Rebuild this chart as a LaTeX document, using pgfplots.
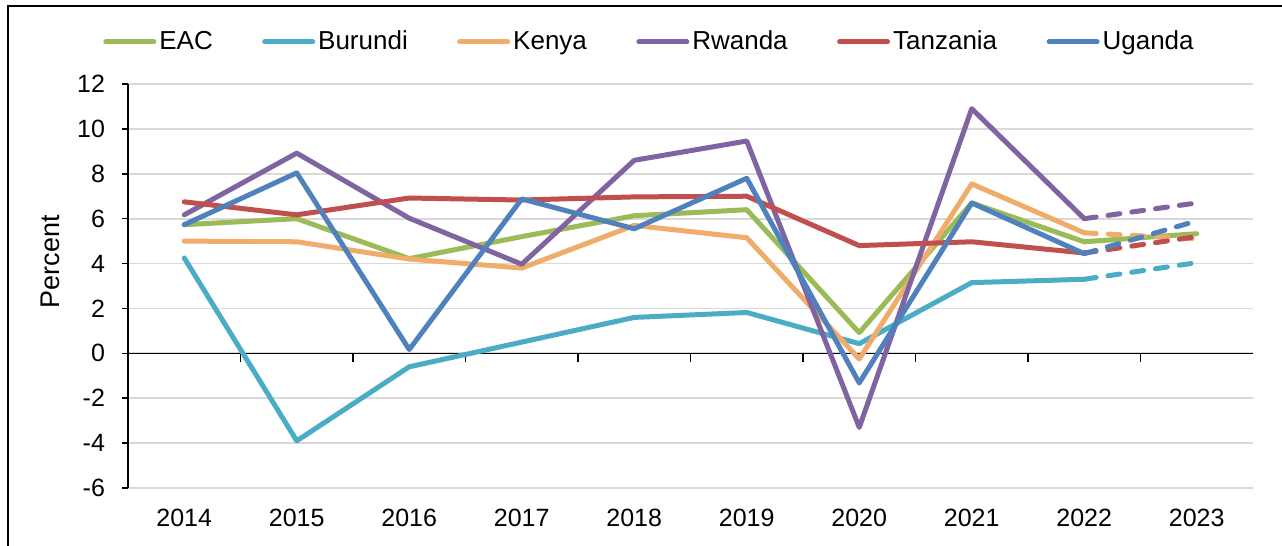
\documentclass[border=0pt]{standalone}
\usepackage{fontspec}
\setmainfont{Liberation Sans}
\usepackage{pgfplots}
\pgfplotsset{compat=1.18}

\definecolor{cEAC}{HTML}{9BBB59}
\definecolor{cBdi}{HTML}{4BACC6}
\definecolor{cKen}{HTML}{F0AC6A}
\definecolor{cRwa}{HTML}{8064A2}
\definecolor{cTza}{HTML}{C0504D}
\definecolor{cUga}{HTML}{4F81BD}

\begin{document}
\begin{tikzpicture}
\useasboundingbox (0,0) rectangle (641pt,273pt);
\draw[line width=0.9pt] (4pt,0) -- (4pt,270pt) -- (641pt,270pt);
\begin{axis}[
  at={(64pt,29pt)}, anchor=south west, scale only axis,
  width=562.5pt, height=202pt,
  xmin=-0.5, xmax=9.5, ymin=-6, ymax=12,
  ytick={-6,-4,...,12},
  xtick={0,...,9},
  xticklabels={2014,2015,2016,2017,2018,2019,2020,2021,2022,2023},
  axis line style={draw=none},
  xtick style={draw=none},
  ytick pos=left, tick align=outside, major tick length=3pt,
  ytick style={black, line width=0.8pt},
  ymajorgrids, grid style={black!15, line width=0.9pt},
  font=\fontsize{12.5}{15}\selectfont,
  /pgf/number format/assume math mode=true,
  yticklabel style={xshift=-5pt},
  xticklabel style={yshift=-4pt},
  ylabel={Percent},
  ylabel style={font=\fontsize{13.5}{16}\selectfont, at={(axis description cs:-0.069,0.56)}, anchor=center},
  clip=false,
  legend columns=6,
  legend style={draw=none, fill=none, at={(0.464,1.104)}, anchor=center,
    font=\fontsize{13}{15}\selectfont,
    /tikz/every even column/.append style={column sep=23.2pt},
    nodes={inner xsep=1.5pt}},
  legend image code/.code={\draw[#1, solid, line cap=round] (0pt,0pt) -- (24pt,0pt);},
  every axis plot/.append style={line width=2.5pt, line cap=round, line join=round, mark=none},
]
\draw[line width=0.8pt] (rel axis cs:0,0) -- (rel axis cs:0,1);
\draw[line width=0.8pt] (axis cs:-0.5,0) -- (axis cs:9.5,0);
\pgfplotsinvokeforeach{0.5,1.5,...,8.5}{\draw[line width=0.8pt] (axis cs:#1,0) -- ([yshift=-4.5pt]axis cs:#1,0);}

\addplot[cEAC] coordinates {(0,5.73) (1,6.0) (2,4.22) (3,5.2) (4,6.13) (5,6.4) (6,0.92) (7,6.7) (8,4.97) (9,5.33)};
\addlegendentry{EAC}
\addplot[cBdi] coordinates {(0,4.25) (1,-3.9) (2,-0.6) (3,0.5) (4,1.6) (5,1.82) (6,0.43) (7,3.15) (8,3.3)};
\addlegendentry{Burundi}
\addplot[cBdi, dash pattern=on 6pt off 6pt, forget plot] coordinates {(8,3.3) (9,4.04)};
\addplot[cKen] coordinates {(0,5.0) (1,4.97) (2,4.2) (3,3.8) (4,5.7) (5,5.15) (6,-0.25) (7,7.55) (8,5.37)};
\addlegendentry{Kenya}
\addplot[cKen, dash pattern=on 6pt off 6pt, forget plot] coordinates {(8,5.37) (9,5.1)};
\addplot[cRwa] coordinates {(0,6.17) (1,8.92) (2,6.02) (3,3.97) (4,8.6) (5,9.46) (6,-3.3) (7,10.9) (8,6.0)};
\addlegendentry{Rwanda}
\addplot[cRwa, dash pattern=on 6pt off 6pt, forget plot] coordinates {(8,6.0) (9,6.7)};
\addplot[cTza] coordinates {(0,6.75) (1,6.17) (2,6.92) (3,6.83) (4,6.97) (5,7.0) (6,4.8) (7,4.97) (8,4.47)};
\addlegendentry{Tanzania}
\addplot[cTza, dash pattern=on 6pt off 6pt, forget plot] coordinates {(8,4.47) (9,5.2)};
\addplot[cUga] coordinates {(0,5.73) (1,8.04) (2,0.17) (3,6.88) (4,5.55) (5,7.8) (6,-1.32) (7,6.7) (8,4.44)};
\addlegendentry{Uganda}
\addplot[cUga, dash pattern=on 6pt off 6pt, forget plot] coordinates {(8,4.44) (9,5.9)};
\end{axis}
\end{tikzpicture}
\end{document}
